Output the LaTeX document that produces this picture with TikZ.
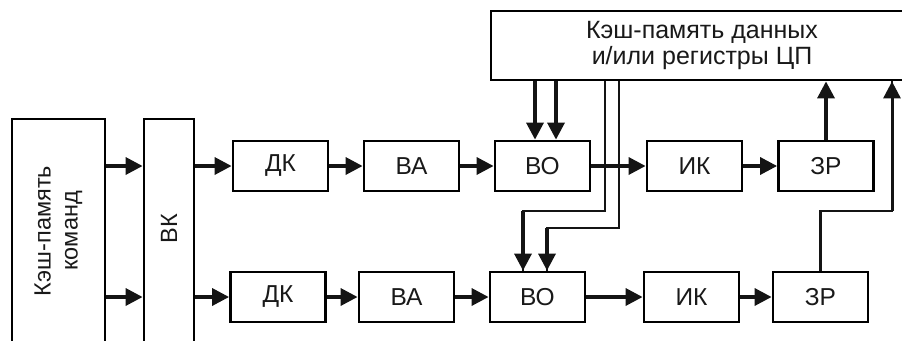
\documentclass[tikz,border=0pt]{standalone}
\usepackage{fontspec}
\setmainfont{Liberation Sans}
\usetikzlibrary{arrows.meta}
\begin{document}
\begin{tikzpicture}[x=1pt,y=-1pt,
  box/.style={draw=black, line width=2.8pt, minimum width=95pt, minimum height=50pt,
    inner sep=0pt, font=\fontsize{24.5}{26.5}\selectfont, text=black!90},
  rottext/.style={rotate=90, align=center, inner sep=0pt, text=black!90,
    font=\fontsize{23.5}{27}\selectfont},
  arr/.style={draw=black!92, line width=3.4pt, -{Triangle[length=17pt,width=17pt]}},
  wire/.style={draw=black!92, line width=2.3pt},
]
\useasboundingbox (0,0) rectangle (902,340);
% data cache
\node[box, minimum width=422pt, minimum height=69pt, align=center,
  font=\fontsize{25}{26.5}\selectfont] (dc) at (702,45.5)
  {Кэш-память данных\\и/или регистры ЦП};
% instruction cache and fetch
\node[box, minimum width=93pt, minimum height=240pt] (cmd) at (58.5,239) {};
\node[rottext] (cmdt) at (58.5,231) {Кэш-память\\команд};
\node[box, minimum width=50pt, minimum height=240pt] (vk) at (169,239) {};
\node[rottext] (vkt) at (169,228.5) {ВК};
% top pipeline
\node[box] (dk1) at (280.5,166) {ДК};
\node[box] (va1) at (411.5,166) {ВА};
\node[box] (vo1) at (542.5,166) {ВО};
\node[box] (ik1) at (694.5,166) {ИК};
\node[box] (zr1) at (826,166) {ЗР};
% bottom pipeline
\node[box] (dk2) at (278,297) {ДК};
\node[box] (va2) at (406.5,297) {ВА};
\node[box] (vo2) at (537.5,297) {ВО};
\node[box] (ik2) at (691.5,297) {ИК};
\node[box] (zr2) at (820.5,297) {ЗР};
% helper coordinates
\coordinate (xa) at (535,0);
\coordinate (xb) at (556,0);
\coordinate (w1) at (605,211);
\coordinate (w1b) at (523,211);
\coordinate (w2) at (619,228);
\coordinate (w2b) at (547,228);
\coordinate (w3b) at (892,211);
% arrows left part
\draw[arr] (cmd.east |- dk1.west) -- (vk.west |- dk1.west);
\draw[arr] (cmd.east |- dk2.west) -- (vk.west |- dk2.west);
\draw[arr] (vk.east |- dk1.west) -- (dk1.west);
\draw[arr] (vk.east |- dk2.west) -- (dk2.west);
% pipeline arrows
\draw[arr] (dk1.east) -- (va1.west);
\draw[arr] (va1.east) -- (vo1.west);
\draw[arr] (ik1.east) -- (zr1.west);
\draw[arr] (dk2.east) -- (va2.west);
\draw[arr] (va2.east) -- (vo2.west);
\draw[arr] (vo2.east) -- (ik2.west);
\draw[arr] (ik2.east) -- (zr2.west);
% data cache to top ВО
\draw[arr] (dc.south -| xa) -- (vo1.north -| xa);
\draw[arr] (dc.south -| xb) -- (vo1.north -| xb);
% wires to bottom ВО
\draw[wire] (dc.south -| w1) -- (w1) -- (w1b) -- (vo2.north -| w1b);
\draw[arr] (w1b) -- (vo2.north -| w1b);
\draw[wire] (dc.south -| w2) -- (w2) -- (w2b) -- (vo2.north -| w2b);
\draw[arr] (w2b) -- (vo2.north -| w2b);
% top ВО to ИК (crosses wires)
\draw[arr] (vo1.east) -- (ik1.west);
% ЗР outputs
\draw[arr] (zr1.north) -- (dc.south -| zr1.north);
\draw[wire] (zr2.north) |- (w3b) -- (dc.south -| w3b);
\draw[arr, line width=3pt] (w3b) -- (dc.south -| w3b);
\end{tikzpicture}
\end{document}
